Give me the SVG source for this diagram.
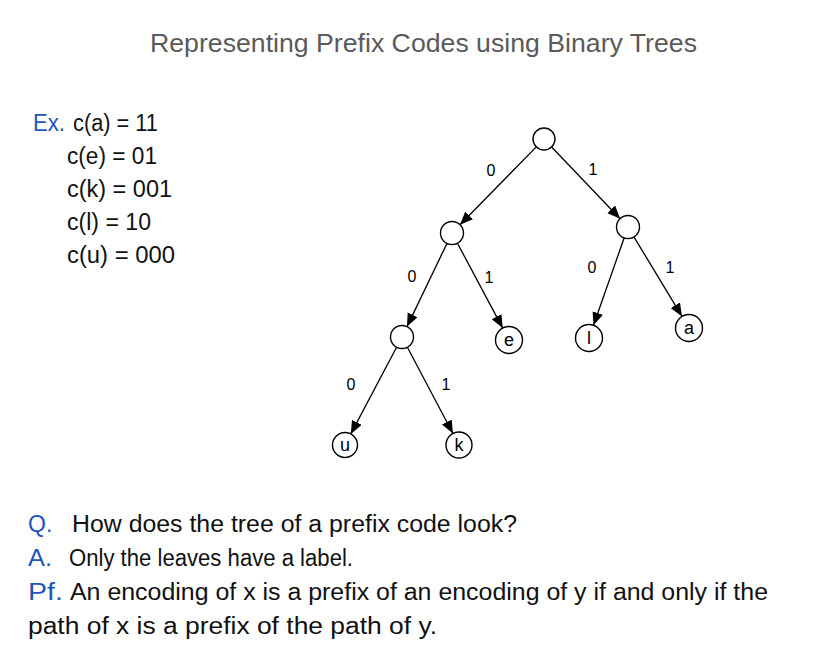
<svg xmlns="http://www.w3.org/2000/svg" width="828" height="656" viewBox="0 0 828 656">
<defs>
<marker id="arr" markerUnits="userSpaceOnUse" markerWidth="14" markerHeight="12" refX="13" refY="5.5" orient="auto">
<path d="M0,0 L13,5.5 L0,11 z" fill="#000"/>
</marker>
<style>
.t{font-family:"Liberation Sans",Arial,sans-serif;font-size:23px;fill:#111}
.b{fill:#1f55b8}
.ttl{font-family:"Liberation Sans",Arial,sans-serif;font-size:25px;fill:#5a5a5a}
.n{fill:#fff;stroke:#000;stroke-width:1.4}
.lbl{font-family:"Liberation Sans",Arial,sans-serif;font-size:16px;fill:#000;text-anchor:middle}
.lf{font-family:"Liberation Sans",Arial,sans-serif;font-size:18px;fill:#000;text-anchor:middle}
.e{stroke:#000;stroke-width:1.3;fill:none;marker-end:url(#arr)}
</style>
</defs>
<rect width="828" height="656" fill="#fff"/>
<text class="ttl" x="150" y="52" textLength="547" lengthAdjust="spacingAndGlyphs">Representing Prefix Codes using Binary Trees</text>
<g id="codes">
<text class="t b" x="33" y="131" textLength="32" lengthAdjust="spacingAndGlyphs">Ex.</text>
<text class="t" x="73" y="131" textLength="85" lengthAdjust="spacingAndGlyphs">c(a) = 11</text>
<text class="t" x="67" y="164" textLength="90" lengthAdjust="spacingAndGlyphs">c(e) = 01</text>
<text class="t" x="67" y="197" textLength="105" lengthAdjust="spacingAndGlyphs">c(k) = 001</text>
<text class="t" x="67" y="230" textLength="84" lengthAdjust="spacingAndGlyphs">c(l) = 10</text>
<text class="t" x="67" y="263" textLength="108" lengthAdjust="spacingAndGlyphs">c(u) = 000</text>
</g>
<g id="connectors">
<line class="e" x1="536.3" y1="146.9" x2="460" y2="224.8"/>
<line class="e" x1="551.6" y1="147" x2="620.1" y2="218.7"/>
<line class="e" x1="447" y1="243.4" x2="407" y2="326.6"/>
<line class="e" x1="457.4" y1="243.2" x2="502.7" y2="328.1"/>
<line class="e" x1="624.2" y1="237.8" x2="593.5" y2="325.3"/>
<line class="e" x1="633.9" y1="236.8" x2="682" y2="316.4"/>
<line class="e" x1="396.6" y1="347.2" x2="350.8" y2="433.9"/>
<line class="e" x1="407.4" y1="347.2" x2="452.9" y2="433.5"/>
<text class="lbl" x="491" y="176">0</text>
<text class="lbl" x="593" y="175">1</text>
<text class="lbl" x="412" y="282">0</text>
<text class="lbl" x="489" y="283">1</text>
<text class="lbl" x="592" y="273">0</text>
<text class="lbl" x="670" y="273">1</text>
<text class="lbl" x="351" y="390">0</text>
<text class="lbl" x="446" y="390">1</text>
</g>
<g id="root"><circle class="n" cx="544" cy="139" r="11"/></g>
<g id="n0"><circle class="n" cx="452" cy="233" r="11.5"/></g>
<g id="n1"><circle class="n" cx="628" cy="227" r="11.5"/></g>
<g id="n00"><circle class="n" cx="402" cy="337" r="11.5"/></g>
<g id="leaf-e"><circle class="n" cx="509" cy="340" r="13.5"/><text class="lf" x="509" y="346">e</text></g>
<g id="leaf-l"><circle class="n" cx="589" cy="338" r="13.5"/><text class="lf" x="589" y="344">l</text></g>
<g id="leaf-a"><circle class="n" cx="689" cy="328" r="13.5"/><text class="lf" x="689" y="334">a</text></g>
<g id="leaf-u"><circle class="n" cx="345" cy="445" r="12.5"/><text class="lf" x="345" y="451">u</text></g>
<g id="leaf-k"><circle class="n" cx="459" cy="445" r="13"/><text class="lf" x="459" y="451">k</text></g>
<g id="qa">
<text class="t b" x="28" y="532">Q.</text>
<text class="t" x="72" y="532" textLength="445" lengthAdjust="spacingAndGlyphs">How does the tree of a prefix code look?</text>
<text class="t b" x="28" y="566" textLength="24" lengthAdjust="spacingAndGlyphs">A.</text>
<text class="t" x="69" y="566" textLength="284" lengthAdjust="spacingAndGlyphs">Only the leaves have a label.</text>
<text class="t b" x="28" y="600" textLength="35" lengthAdjust="spacingAndGlyphs">Pf.</text>
<text class="t" x="70" y="600" textLength="698" lengthAdjust="spacingAndGlyphs">An encoding of x is a prefix of an encoding of y if and only if the</text>
<text class="t" x="28" y="634" textLength="409" lengthAdjust="spacingAndGlyphs">path of x is a prefix of the path of y.</text>
</g>
</svg>
